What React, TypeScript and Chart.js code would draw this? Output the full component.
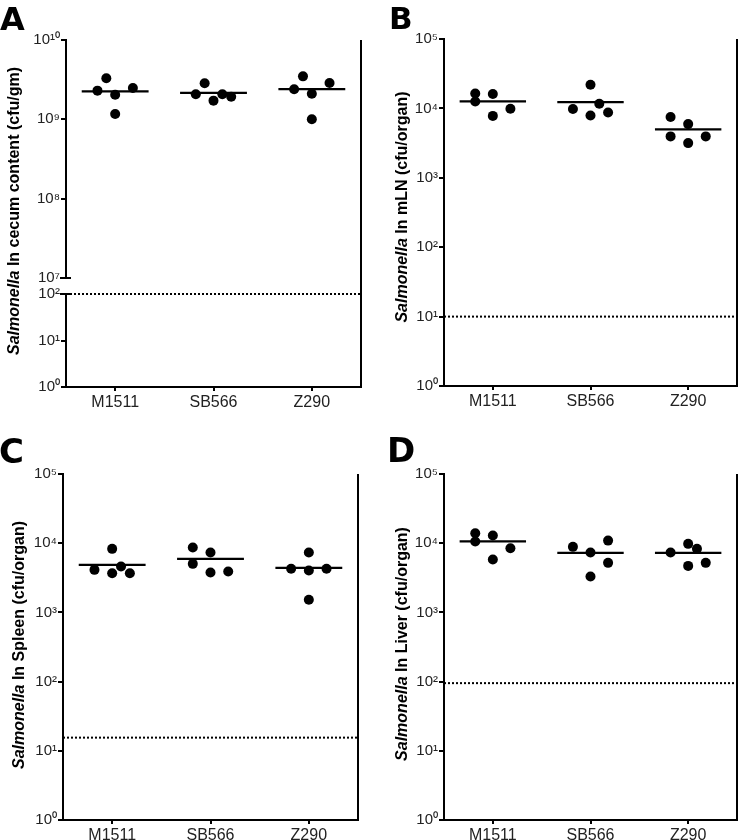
import { useEffect, useRef } from 'react';
import { Chart, registerables } from 'chart.js';

Chart.register(...registerables);
Chart.defaults.font.family = '"Liberation Sans", Arial, sans-serif';

// ---------- data ----------
const categories = ['M1511', 'SB566', 'Z290'];

// Panel A: Salmonella in cecum content (cfu/gm)
const cecumOffsets = [
  [-0.09, -0.18, 0, 0.18, 0],
  [-0.18, -0.09, 0, 0.09, 0.18],
  [-0.18, -0.09, 0, 0.18, 0],
];
const cecumValues = [
  [3.3e9, 2.3e9, 2.04e9, 2.48e9, 1.17e9],
  [2.07e9, 2.85e9, 1.72e9, 2.07e9, 1.93e9],
  [2.39e9, 3.48e9, 2.1e9, 2.87e9, 1.0e9],
];
const cecumMedians = [2.25e9, 2.15e9, 2.4e9];
const cecumLimit = 100;
const cecumUpperTicks = [1e7, 1e8, 1e9, 1e10];
const cecumLowerTicks = [1, 10, 100];

// Panel B: Salmonella in mLN (cfu/organ)
const mlnOffsets = [
  [-0.18, -0.18, 0, 0, 0.18],
  [0, -0.18, 0.09, 0, 0.18],
  [-0.18, 0, -0.18, 0, 0.18],
];
const mlnValues = [
  [1.64e4, 1.26e4, 1.61e4, 7.8e3, 9.9e3],
  [2.19e4, 9.8e3, 1.17e4, 7.9e3, 8.75e3],
  [7.5e3, 5.94e3, 3.95e3, 3.16e3, 3.95e3],
];
const mlnMedians = [1.26e4, 1.23e4, 4.98e3];
const mlnLimit = 10;

// Panel C: Salmonella in Spleen (cfu/organ)
const spleenOffsets = [
  [0, -0.18, 0, 0.09, 0.18],
  [-0.18, -0.18, 0, 0, 0.18],
  [0, -0.18, 0, 0.18, 0],
];
const spleenValues = [
  [8.28e3, 4.12e3, 3.69e3, 4.6e3, 3.69e3],
  [8.66e3, 5.03e3, 7.33e3, 3.78e3, 3.9e3],
  [7.33e3, 4.27e3, 4.04e3, 4.27e3, 1.52e3],
];
const spleenMedians = [4.87e3, 5.94e3, 4.4e3];
const spleenLimit = 15.5;

// Panel D: Salmonella in Liver (cfu/organ)
const liverOffsets = [
  [-0.18, -0.18, 0, 0, 0.18],
  [-0.18, 0, 0, 0.18, 0.18],
  [-0.18, 0, 0.09, 0, 0.18],
];
const liverValues = [
  [1.39e4, 1.06e4, 1.29e4, 5.81e3, 8.47e3],
  [8.85e3, 7.33e3, 3.3e3, 1.09e4, 5.2e3],
  [7.33e3, 9.78e3, 8.28e3, 4.7e3, 5.2e3],
];
const liverMedians = [1.06e4, 7.26e3, 7.26e3];
const liverLimit = 95;

const organTicks = [1, 10, 100, 1e3, 1e4, 1e5];

// ---------- helpers ----------
const MEDIAN_HALF = 0.34;
const FONT = '"Liberation Sans", Arial, sans-serif';
const LETTER_FONT = '"DejaVu Sans", "Liberation Sans", sans-serif';
const SUP: Record<string, string> = {
  '0': '⁰', '1': '¹', '2': '²', '3': '³', '4': '⁴',
  '5': '⁵', '6': '⁶', '7': '⁷', '8': '⁸', '9': '⁹',
};
function pow10Label(v: number) {
  const e = Math.round(Math.log10(v));
  return '10' + String(e).split('').map((c) => SUP[c]).join('');
}

interface Spec {
  key: string;
  left: number;
  top: number;
  letter: string;
  letterSize: number;
  letterX: number;
  letterBase: number;
  titleRest: string;
  titleX: number;
  titleY: number;
  padTop: number;
  padRight: number;
  yWidth: number;
  xHeight: number;
  offsets: number[][];
  values: number[][];
  medians: number[];
  limit: number;
  broken: boolean;
}

function yLogAxis(min: number, max: number, ticks: number[], width: number, extra: any = {}) {
  return {
    type: 'logarithmic',
    position: 'left',
    min,
    max,
    afterBuildTicks: (s: any) => {
      s.ticks = ticks.map((v) => ({ value: v }));
    },
    afterFit: (s: any) => {
      s.width = width;
    },
    ticks: {
      callback: (v: number) => pow10Label(v),
      font: { family: FONT, size: 15 },
      color: '#222',
      padding: 1,
      autoSkip: false,
    },
    grid: { drawOnChartArea: false, drawTicks: true, tickLength: 5, color: '#000', lineWidth: 2 },
    border: { display: true, color: '#000', width: 2 },
    ...extra,
  };
}

function buildConfig(spec: Spec): any {
  const pointAxis = spec.broken ? 'yTop' : 'y';
  const limitAxis = spec.broken ? 'yBottom' : 'y';
  const pts = spec.values.flatMap((g, gi) =>
    g.map((v, j) => ({ x: gi + spec.offsets[gi][j], y: v }))
  );
  const datasets: any[] = [
    {
      data: pts,
      yAxisID: pointAxis,
      backgroundColor: '#000',
      borderColor: '#000',
      borderWidth: 0,
      pointRadius: 5,
      pointHoverRadius: 5,
    },
  ];
  spec.medians.forEach((m, gi) => {
    datasets.push({
      data: [
        { x: gi - MEDIAN_HALF, y: m },
        { x: gi + MEDIAN_HALF, y: m },
      ],
      yAxisID: pointAxis,
      showLine: true,
      borderColor: '#000',
      borderWidth: 2.2,
      pointRadius: 0,
    });
  });
  datasets.push({
    data: [
      { x: -0.5, y: spec.limit },
      { x: 2.5, y: spec.limit },
    ],
    yAxisID: limitAxis,
    showLine: true,
    borderColor: '#000',
    borderWidth: 2,
    borderDash: [2, 2],
    pointRadius: 0,
    clip: false,
  });

  const scales: any = {
    x: {
      type: 'linear',
      min: -0.5,
      max: 2.5,
      afterBuildTicks: (s: any) => {
        s.ticks = categories.map((_, i) => ({ value: i }));
      },
      afterFit: (s: any) => {
        s.height = spec.xHeight;
      },
      ticks: {
        callback: (v: number) => categories[Math.round(v)],
        font: { family: FONT, size: 16 },
        color: '#222',
        padding: 2,
        maxRotation: 0,
        autoSkip: false,
      },
      grid: { drawOnChartArea: false, drawTicks: true, tickLength: 4, color: '#000', lineWidth: 2 },
      border: { display: true, color: '#000', width: 2 },
    },
  };
  if (spec.broken) {
    scales.yTop = yLogAxis(1e7, 1e10, cecumUpperTicks, spec.yWidth, { stack: 'y', stackWeight: 238, weight: 3 });
    scales.yGap = {
      type: 'linear',
      position: 'left',
      stack: 'y',
      stackWeight: 16,
      weight: 2,
      afterFit: (s: any) => {
        s.width = spec.yWidth;
      },
      ticks: { display: false },
      grid: { display: false },
      border: { display: false },
    };
    scales.yBottom = yLogAxis(1, 100, cecumLowerTicks, spec.yWidth, { stack: 'y', stackWeight: 93, weight: 1 });
  } else {
    scales.y = yLogAxis(1, 1e5, organTicks, spec.yWidth);
  }

  const decor = {
    id: 'decor' + spec.key,
    afterDraw(chart: any) {
      const { ctx, chartArea } = chart;
      ctx.save();
      ctx.strokeStyle = '#000';
      ctx.lineWidth = 2;
      ctx.beginPath();
      ctx.moveTo(chartArea.right, chartArea.top);
      ctx.lineTo(chartArea.right, chartArea.bottom + 1);
      ctx.stroke();
      if (spec.broken) {
        const top = chart.scales.yTop;
        const bot = chart.scales.yBottom;
        ctx.beginPath();
        ctx.moveTo(chartArea.left - 6, top.bottom);
        ctx.lineTo(chartArea.left + 5, top.bottom);
        ctx.moveTo(chartArea.left - 6, bot.top);
        ctx.lineTo(chartArea.left + 5, bot.top);
        ctx.stroke();
      }
      // panel letter
      ctx.fillStyle = '#000';
      ctx.textBaseline = 'alphabetic';
      ctx.textAlign = 'left';
      ctx.font = `bold ${spec.letterSize}px ${LETTER_FONT}`;
      ctx.fillText(spec.letter, spec.letterX, spec.letterBase);
      // y title
      const italic = 'Salmonella';
      const rest = spec.titleRest;
      const fItalic = `italic bold 16px ${FONT}`;
      const fBold = `bold 16px ${FONT}`;
      ctx.font = fItalic;
      const w1 = ctx.measureText(italic).width;
      ctx.font = fBold;
      const w2 = ctx.measureText(rest).width;
      ctx.translate(spec.titleX, spec.titleY);
      ctx.rotate(-Math.PI / 2);
      ctx.textBaseline = 'middle';
      const start = -(w1 + w2) / 2;
      ctx.font = fItalic;
      ctx.fillText(italic, start, 0);
      ctx.font = fBold;
      ctx.fillText(rest, start + w1, 0);
      ctx.restore();
    },
  };

  return {
    type: 'scatter',
    data: { datasets },
    options: {
      animation: false,
      responsive: false,
      events: [],
      layout: { padding: { left: 0, top: spec.padTop, right: spec.padRight, bottom: 0 } },
      plugins: { legend: { display: false }, tooltip: { enabled: false }, title: { display: false } },
      scales,
    },
    plugins: [decor],
  };
}

const specs: Spec[] = [
  {
    key: 'A', left: 0, top: 0, letter: 'A', letterSize: 32, letterX: 0, letterBase: 30,
    titleRest: ' In cecum content (cfu/gm)', titleX: 15, titleY: 211,
    padTop: 40, padRight: 10, yWidth: 66, xHeight: 33,
    offsets: cecumOffsets, values: cecumValues, medians: cecumMedians, limit: cecumLimit, broken: true,
  },
  {
    key: 'B', left: 371, top: 0, letter: 'B', letterSize: 31, letterX: 18, letterBase: 29,
    titleRest: ' In mLN (cfu/organ)', titleX: 32, titleY: 207,
    padTop: 39, padRight: 3, yWidth: 73, xHeight: 34,
    offsets: mlnOffsets, values: mlnValues, medians: mlnMedians, limit: mlnLimit, broken: false,
  },
  {
    key: 'C', left: 0, top: 420, letter: 'C', letterSize: 34, letterX: -1, letterBase: 43,
    titleRest: ' In Spleen (cfu/organ)', titleX: 20, titleY: 225,
    padTop: 54, padRight: 13, yWidth: 63, xHeight: 20,
    offsets: spleenOffsets, values: spleenValues, medians: spleenMedians, limit: spleenLimit, broken: false,
  },
  {
    key: 'D', left: 371, top: 420, letter: 'D', letterSize: 34, letterX: 16, letterBase: 42,
    titleRest: ' In Liver (cfu/organ)', titleX: 32, titleY: 224,
    padTop: 54, padRight: 2, yWidth: 73, xHeight: 20,
    offsets: liverOffsets, values: liverValues, medians: liverMedians, limit: liverLimit, broken: false,
  },
];

function Panel({ spec }: { spec: Spec }) {
  const ref = useRef<HTMLCanvasElement>(null);
  useEffect(() => {
    const chart = new Chart(ref.current as HTMLCanvasElement, buildConfig(spec));
    return () => chart.destroy();
  }, [spec]);
  return (
    <div style={{ position: 'absolute', left: spec.left, top: spec.top, width: 371, height: 420 }}>
      <canvas ref={ref} width={371} height={420} style={{ display: 'block', width: 371, height: 420 }} />
    </div>
  );
}

export default function App() {
  return (
    <div style={{ position: 'absolute', left: 0, top: 0, width: 742, height: 840, background: '#fff', overflow: 'hidden' }}>
      {specs.map((s) => (
        <Panel key={s.key} spec={s} />
      ))}
    </div>
  );
}
